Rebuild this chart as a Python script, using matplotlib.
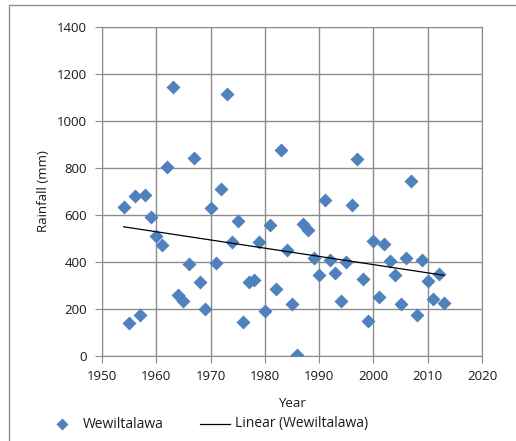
import numpy as np
import matplotlib.pyplot as plt
from matplotlib.patches import Rectangle
from matplotlib.lines import Line2D

# Annual rainfall at Wewiltalawa
years = [1954, 1955, 1956, 1957, 1958, 1959, 1960, 1961, 1962, 1963,
         1964, 1965, 1966, 1967, 1968, 1969, 1970, 1971, 1972, 1973,
         1974, 1975, 1976, 1977, 1978, 1979, 1980, 1981, 1982, 1983,
         1984, 1985, 1986, 1987, 1988, 1989, 1990, 1991, 1992, 1993,
         1994, 1995, 1996, 1997, 1998, 1999, 2000, 2001, 2002, 2003,
         2004, 2005, 2006, 2007, 2008, 2009, 2010, 2011, 2012, 2013]
rainfall = [632, 139, 682, 173, 685, 590, 512, 472, 805, 1143,
            260, 236, 391, 843, 314, 199, 630, 394, 712, 1116,
            486, 574, 145, 316, 324, 486, 193, 556, 284, 876,
            451, 222, 3, 562, 536, 419, 344, 664, 409, 353,
            233, 401, 643, 839, 328, 149, 490, 249, 476, 405,
            344, 222, 419, 743, 176, 408, 318, 242, 351, 226]

series_name = "Wewiltalawa"
x_ticks = [1950, 1960, 1970, 1980, 1990, 2000, 2010, 2020]
y_ticks = [0, 200, 400, 600, 800, 1000, 1200, 1400]

plt.rcParams['font.family'] = ['Open Sans', 'DejaVu Sans']
fs = 9.5
txt_color = "#1a1a1a"
blue = "#4F81BD"

W, H = 516, 441
fig = plt.figure(figsize=(W / 100, H / 100), dpi=100)

def fx(px):
    return px / W

def fy(py):
    return 1 - py / H

# outer chart border (cropped on right/bottom in original)
fig.patches.append(Rectangle((fx(9), -0.1), 1.2, fy(5) + 0.1,
                             transform=fig.transFigure, fill=False,
                             edgecolor="#8c8c8c", lw=1))

ax = fig.add_axes([fx(102), fy(356), fx(482) - fx(102), fy(27) - fy(356)])

ax.grid(True, color="#8c8c8c", lw=1)
ax.set_axisbelow(True)
for s in ax.spines.values():
    s.set_color("#8c8c8c")

ax.plot(years, rainfall, linestyle="none", marker="D", ms=7,
        color=blue, mec="none", zorder=3)

# linear trend
coef = np.polyfit(years, rainfall, 1)
yr = np.array([years[0], years[-1]])
ax.plot(yr, np.polyval(coef, yr), color="black", lw=0.9, zorder=4)

ax.set_xlim(1950, 2020)
ax.set_ylim(0, 1400)
ax.set_xticks(x_ticks)
ax.set_yticks(y_ticks)
ax.tick_params(axis="both", color="#8c8c8c", length=5, labelsize=fs,
               labelcolor=txt_color)
ax.tick_params(axis="x", pad=5)
ax.tick_params(axis="y", pad=6)
ax.set_xlabel("Year", fontsize=fs, labelpad=10, color=txt_color)
ax.set_ylabel("Rainfall (mm)", fontsize=fs, labelpad=5, color=txt_color)

# legend below the plot, laid out like the Excel one
ly = fy(424)
fig.add_artist(Line2D([fx(62)], [ly], linestyle="none", marker="D", ms=6.5,
                      color=blue, mec="none", transform=fig.transFigure))
fig.text(fx(83), ly, series_name, fontsize=fs + 0.5, color=txt_color,
         ha="left", va="center")
fig.add_artist(Line2D([fx(200), fx(230)], [ly, ly], color="black", lw=0.9,
                      transform=fig.transFigure))
fig.text(fx(235), ly, "Linear (" + series_name + ")", fontsize=fs + 0.5,
         color=txt_color, ha="left", va="center")

fig.savefig("out.png", dpi=100)
